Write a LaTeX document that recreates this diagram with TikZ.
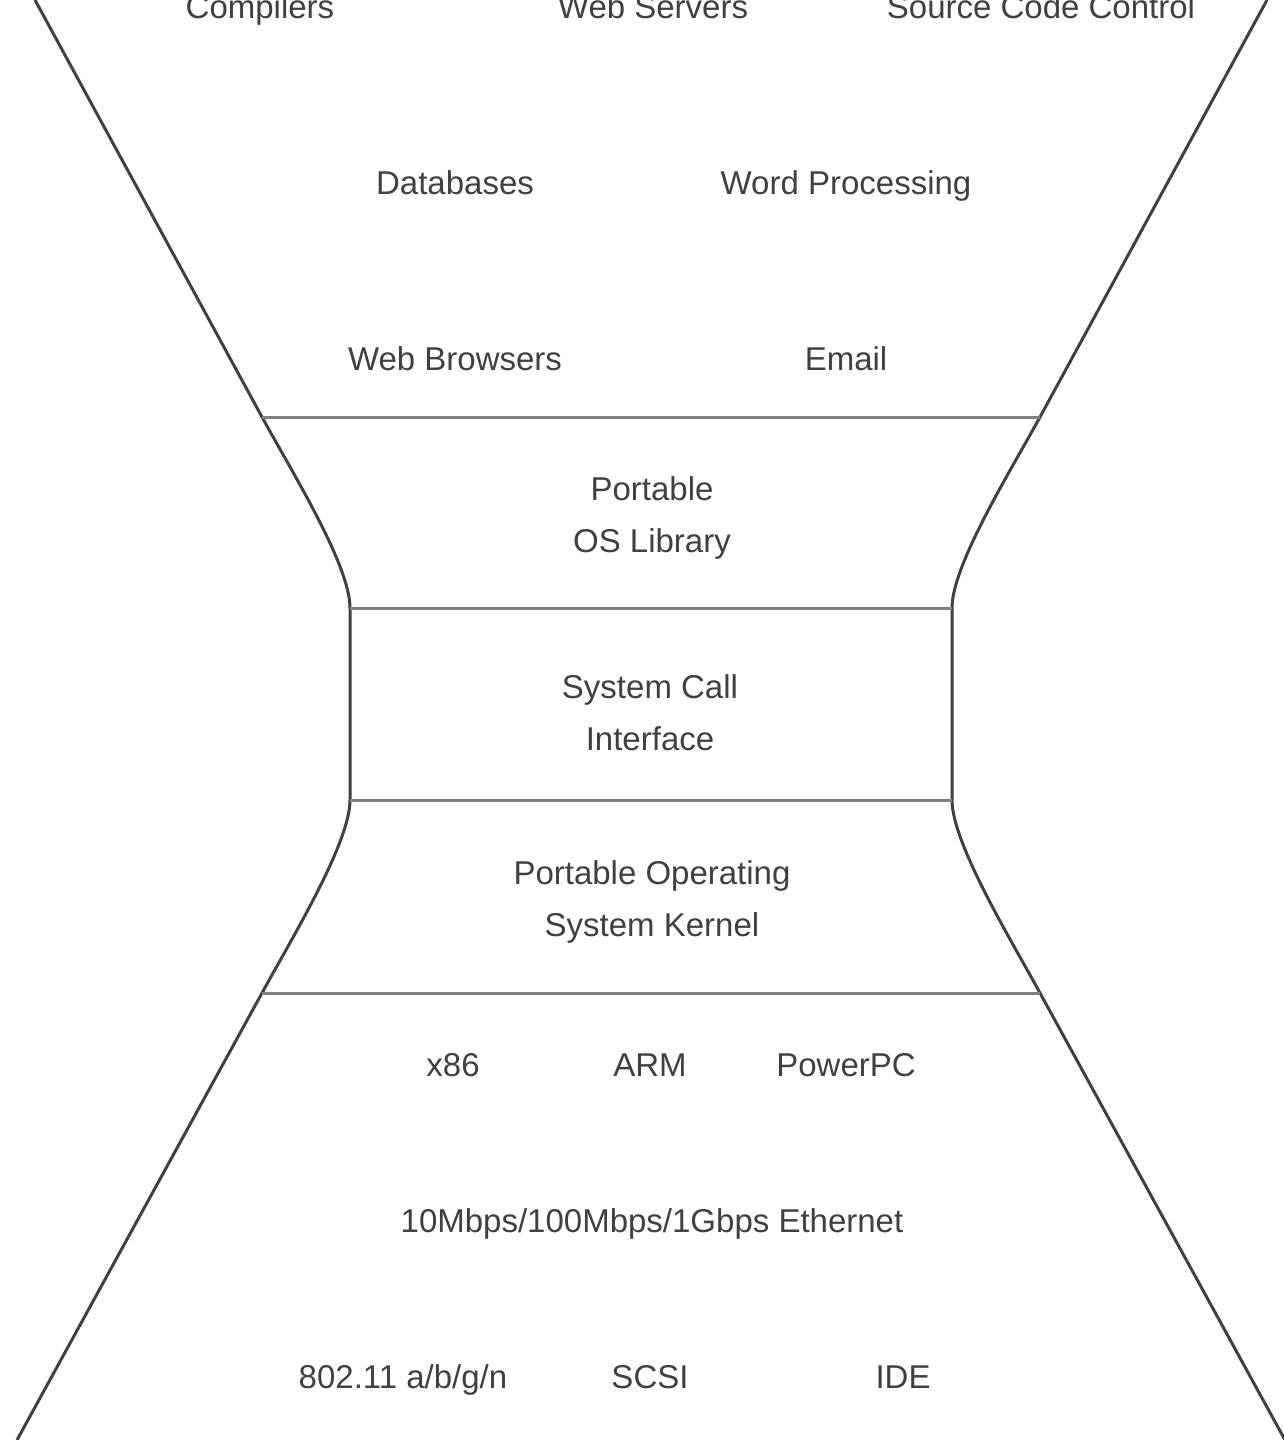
\documentclass[tikz,border=0pt]{standalone}
\usepackage{fontspec}
\setmainfont{Liberation Sans}
\begin{document}
\begin{tikzpicture}[x=1pt,y=-1pt,
  lbl/.style={font=\fontsize{33}{52}\selectfont, text=black!75, inner sep=0pt, align=center, anchor=base},
  outline/.style={draw=black!75, line width=3pt},
  layer/.style={draw=black!50, line width=3pt}]
\useasboundingbox (0,0) rectangle (1283,1440);
% outline
\draw[outline] (35,0) -- (262,417) .. controls (292,472) and (350,565) .. (350,608) -- (350,800)
  .. controls (350,843) and (292,938) .. (262,993) -- (17,1440);
\draw[outline] (1267,0) -- (1040,417) .. controls (1010,472) and (952,565) .. (952,608) -- (952,800)
  .. controls (952,843) and (1010,938) .. (1040,993) -- (1285,1440);
% layer lines
\coordinate (l1a) at (262,417); \coordinate (l1b) at (1040,417);
\coordinate (l2a) at (350,608); \coordinate (l2b) at (952,608);
\coordinate (l3a) at (350,800); \coordinate (l3b) at (952,800);
\coordinate (l4a) at (262,993); \coordinate (l4b) at (1040,993);
\draw[layer] (l1a) -- (l1b);
\draw[layer] (l2a) -- (l2b);
\draw[layer] (l3a) -- (l3b);
\draw[layer] (l4a) -- (l4b);
% top labels
\node[lbl] (comp) at (260,18) {Compilers};
\node[lbl] (web) at (653,18) {Web Servers};
\node[lbl] (scc) at (1041,18) {Source Code Control};
\node[lbl] (db) at (455,194) {Databases};
\node[lbl] (wp) at (846,194) {Word Processing};
\node[lbl] (wb) at (455,370) {Web Browsers};
\node[lbl] (em) at (846,370) {Email};
% layers
\node[lbl] (lib) at (652,552) {Portable\\OS Library};
\node[lbl] (sci) at (650,750) {System Call\\Interface};
\node[lbl] (ker) at (652,936) {Portable Operating\\System Kernel};
% bottom labels
\node[lbl] (x86) at (453,1076) {x86};
\node[lbl] (arm) at (650,1076) {ARM};
\node[lbl] (ppc) at (846,1076) {PowerPC};
\node[lbl] (eth) at (652,1232) {10Mbps/100Mbps/1Gbps Ethernet};
\node[lbl] (wifi) at (403,1388) {802.11 a/b/g/n};
\node[lbl] (scsi) at (650,1388) {SCSI};
\node[lbl] (ide) at (903,1388) {IDE};
\end{tikzpicture}
\end{document}
